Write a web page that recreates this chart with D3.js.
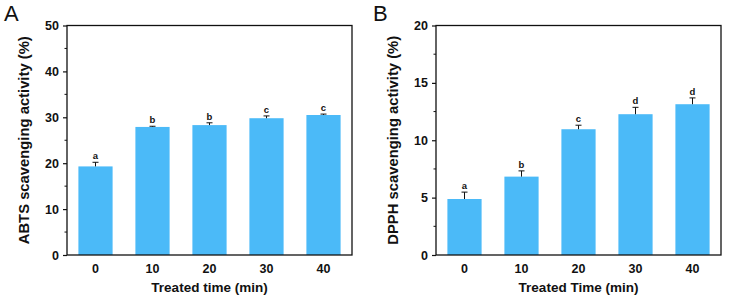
<!DOCTYPE html>
<html>
<head>
<meta charset="utf-8">
<script src="https://cdn.jsdelivr.net/npm/d3@7"></script>
<style>
	body { margin: 0; background: #fff; }
	svg text { font-family: "Liberation Sans", Arial, sans-serif; }
</style>
</head>
<body>
<div id="wrapper"></div>
<script>
// data
const times = ["0", "10", "20", "30", "40"];

const abtsValues = [19.3, 27.9, 28.3, 29.8, 30.5];
const abtsErrors = [0.9, 0.15, 0.5, 0.5, 0.2];
const abtsLetters = ["a", "b", "b", "c", "c"];
const abtsTicks = [0, 10, 20, 30, 40, 50];

const dpphValues = [4.88, 6.83, 10.96, 12.27, 13.14];
const dpphErrors = [0.6, 0.5, 0.35, 0.6, 0.55];
const dpphLetters = ["a", "b", "c", "d", "d"];
const dpphTicks = [0, 5, 10, 15, 20];

const width = 729;
const height = 298;

const wrapper = d3.select("#wrapper")
	.append("svg")
	.attr("width", width)
	.attr("height", height);

function drawPanel(opts) {
	const dims = {
		left: opts.left,
		right: opts.left + 285,
		top: 25.5,
		bottom: 255
	};

	const g = wrapper.append("g");

	const xScale = d3.scaleBand()
		.domain(times)
		.range([dims.left, dims.right])
		.paddingInner(0.4)
		.paddingOuter(0.2);

	const yScale = d3.scaleLinear()
		.domain([0, opts.yMax])
		.range([dims.bottom, dims.top]);

	// bars
	g.append("g")
		.selectAll("rect")
		.data(opts.values)
		.join("rect")
		.attr("x", (d, i) => xScale(times[i]))
		.attr("y", d => yScale(d))
		.attr("width", xScale.bandwidth())
		.attr("height", d => yScale(0) - yScale(d))
		.attr("fill", "#4bbaf8");

	// error bars (upper half)
	const errs = g.append("g")
		.attr("stroke", "#111")
		.attr("stroke-width", 1);

	opts.values.forEach((v, i) => {
		const cx = xScale(times[i]) + xScale.bandwidth() / 2;
		const yTop = yScale(v + opts.errors[i]);
		errs.append("line")
			.attr("x1", cx).attr("x2", cx)
			.attr("y1", yScale(v)).attr("y2", yTop);
		errs.append("line")
			.attr("x1", cx - 3).attr("x2", cx + 3)
			.attr("y1", yTop).attr("y2", yTop);
		g.append("text")
			.attr("x", cx)
			.attr("y", yTop - 3)
			.attr("text-anchor", "middle")
			.attr("font-size", 9.5)
			.attr("font-weight", "bold")
			.attr("fill", "#111")
			.text(opts.letters[i]);
	});

	// y axis
	const yAxisGen = d3.axisLeft(yScale)
		.tickValues(opts.ticks)
		.tickSize(4)
		.tickPadding(4);

	const axisY = g.append("g")
		.attr("transform", `translate(${dims.left},0)`)
		.call(yAxisGen);
	axisY.select(".domain").remove();
	axisY.selectAll("line").attr("stroke", "#111").attr("stroke-width", 1.2);
	axisY.selectAll("text")
		.attr("font-size", 12.5)
		.attr("font-weight", "bold")
		.attr("fill", "#111")
		.attr("font-family", "Liberation Sans, Arial, sans-serif");

	// minor ticks
	const minor = d3.pairs(opts.ticks).map(p => (p[0] + p[1]) / 2);
	g.append("g")
		.selectAll("line")
		.data(minor)
		.join("line")
		.attr("x1", dims.left - 2.5)
		.attr("x2", dims.left)
		.attr("y1", d => yScale(d))
		.attr("y2", d => yScale(d))
		.attr("stroke", "#111")
		.attr("stroke-width", 1);

	// x tick labels
	g.append("g")
		.selectAll("text")
		.data(times)
		.join("text")
		.attr("x", d => xScale(d) + xScale.bandwidth() / 2)
		.attr("y", dims.bottom + 18)
		.attr("text-anchor", "middle")
		.attr("font-size", 12.5)
		.attr("font-weight", "bold")
		.attr("fill", "#111")
		.text(d => d);

	// frame
	g.append("rect")
		.attr("x", dims.left)
		.attr("y", dims.top)
		.attr("width", dims.right - dims.left)
		.attr("height", dims.bottom - dims.top)
		.attr("fill", "none")
		.attr("stroke", "#111")
		.attr("stroke-width", 1.3);

	// axis labels
	g.append("text")
		.attr("x", (dims.left + dims.right) / 2)
		.attr("y", 292)
		.attr("text-anchor", "middle")
		.attr("font-size", 13.5)
		.attr("font-weight", "bold")
		.attr("fill", "#111")
		.text(opts.xLabel);

	g.append("text")
		.attr("transform", `translate(${dims.left - 38},${(dims.top + dims.bottom) / 2}) rotate(-90)`)
		.attr("text-anchor", "middle")
		.attr("font-size", 14.8)
		.attr("font-weight", "bold")
		.attr("fill", "#111")
		.text(opts.yLabel);

	// panel letter
	g.append("text")
		.attr("x", opts.left - 63)
		.attr("y", 21)
		.attr("font-size", 22)
		.attr("fill", "#111")
		.text(opts.panel);
}

drawPanel({
	left: 67,
	yMax: 50,
	values: abtsValues,
	errors: abtsErrors,
	letters: abtsLetters,
	ticks: abtsTicks,
	xLabel: "Treated time (min)",
	yLabel: "ABTS scavenging activity (%)",
	panel: "A"
});

drawPanel({
	left: 436,
	yMax: 20,
	values: dpphValues,
	errors: dpphErrors,
	letters: dpphLetters,
	ticks: dpphTicks,
	xLabel: "Treated Time (min)",
	yLabel: "DPPH scavenging activity (%)",
	panel: "B"
});
</script>
</body>
</html>
